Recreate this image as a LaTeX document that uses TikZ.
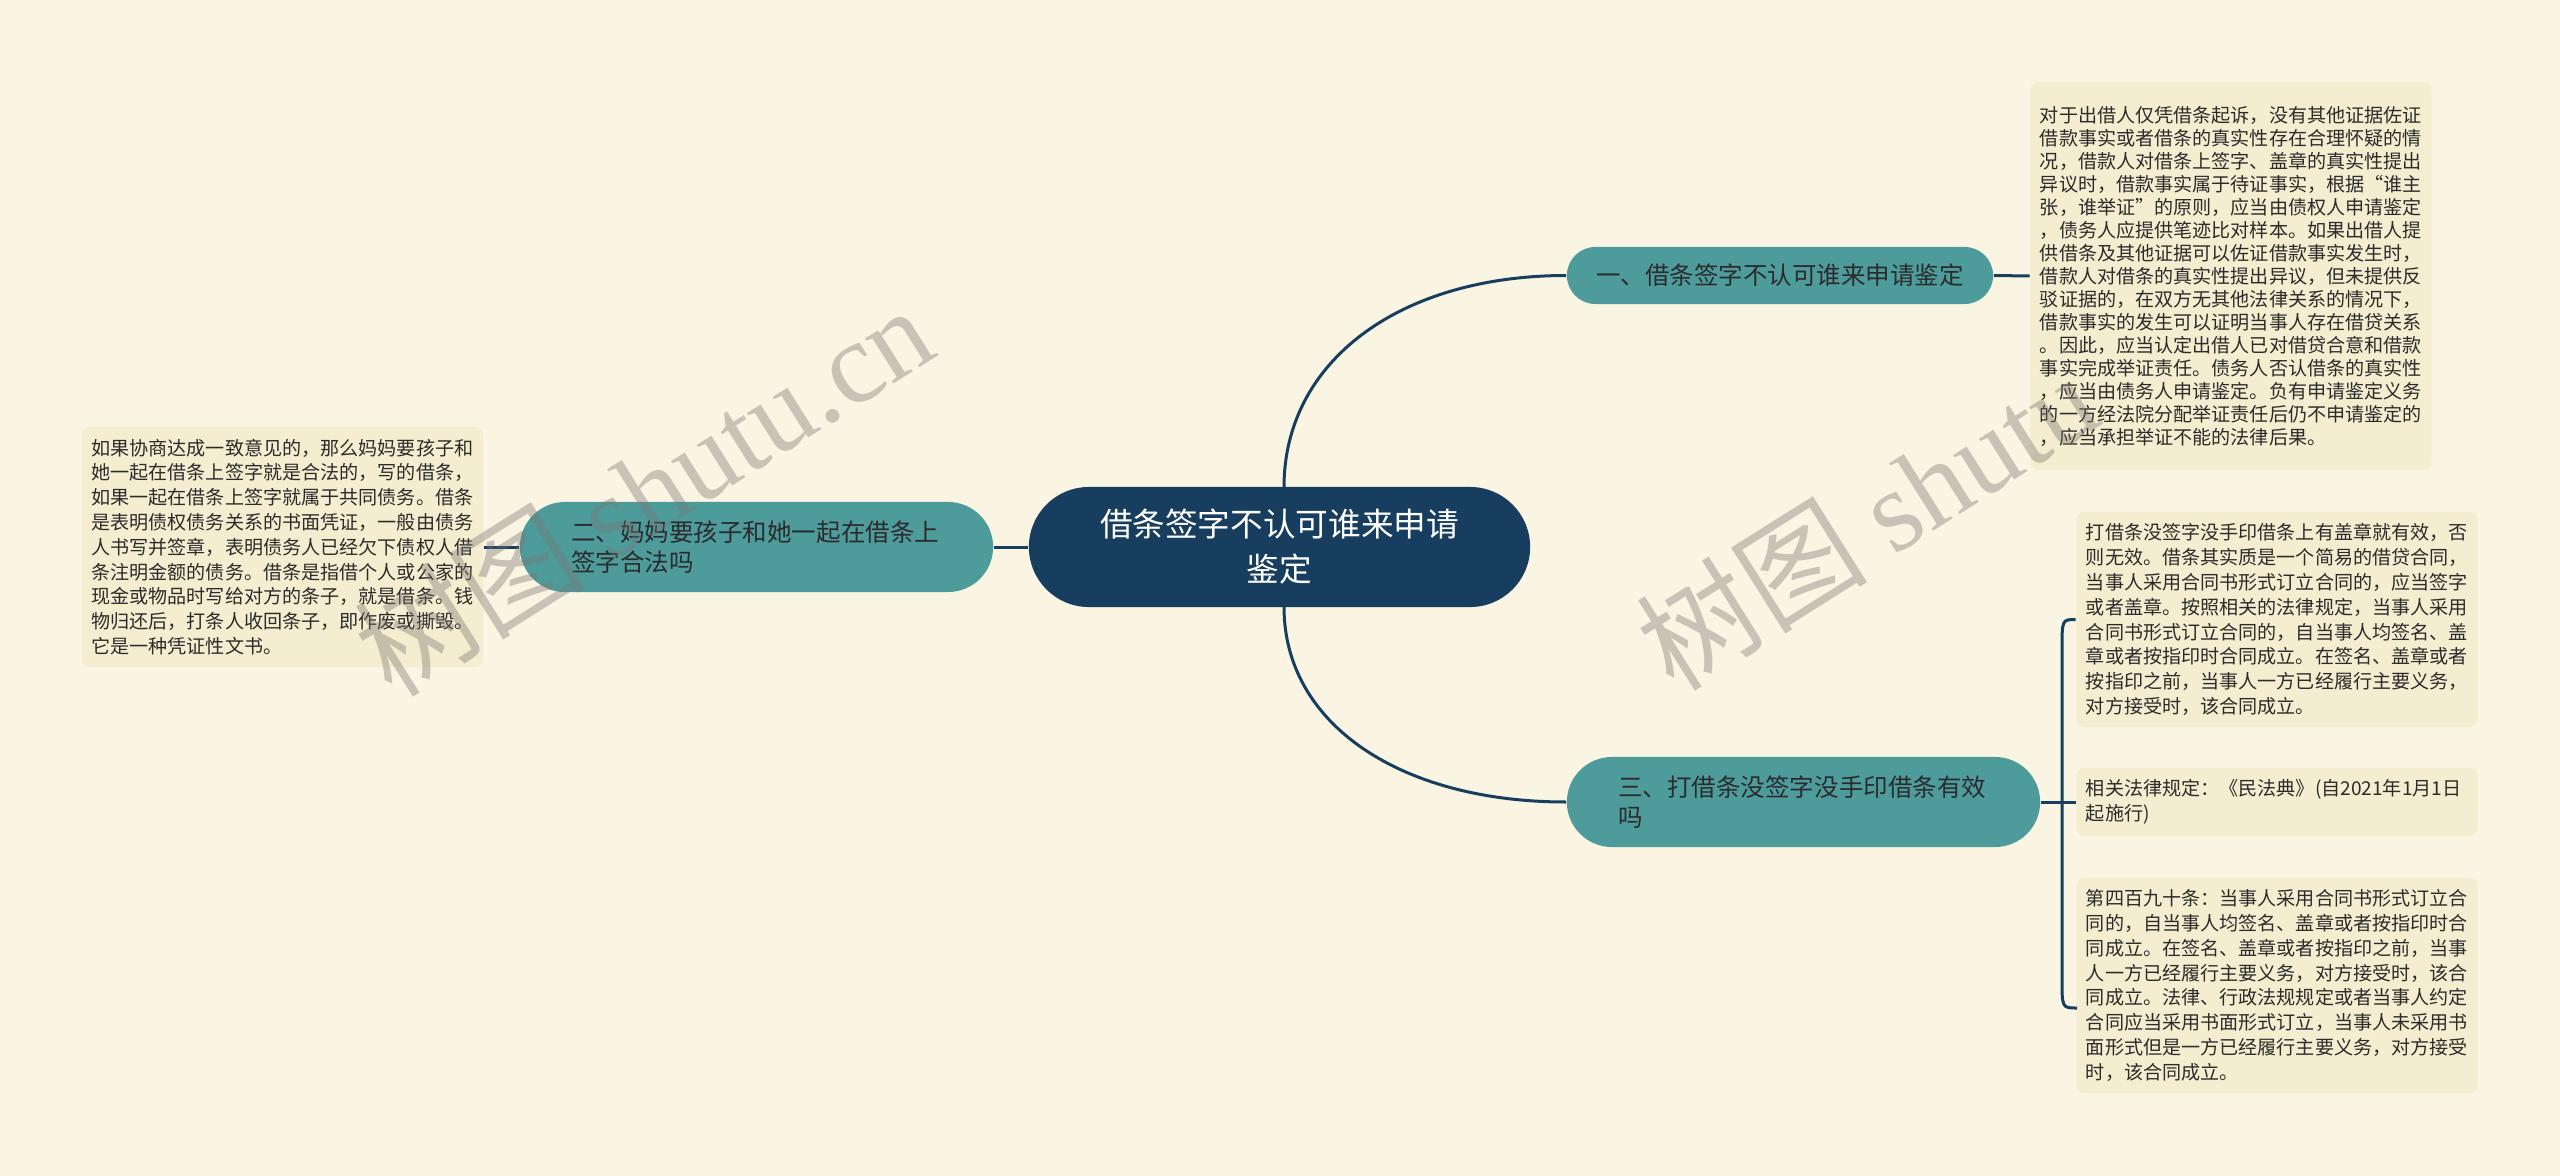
\documentclass[tikz,border=0pt]{standalone}
\usepackage{fontspec}
\setmainfont{Noto Sans CJK SC}
\newfontfamily\wmlat{Liberation Serif}
\definecolor{bgc}{HTML}{FAF5E2}
\definecolor{leafc}{HTML}{F4EDCF}
\definecolor{tealc}{HTML}{4E9B9C}
\definecolor{navyc}{HTML}{183E5F}
\definecolor{txtc}{HTML}{2B2B2B}
\definecolor{wmc}{HTML}{787470}
\tikzset{
  rootbox/.style={fill=navyc, text=white, rounded corners=0.6cm, minimum width=5.01cm, minimum height=1.2cm, align=center, inner sep=0pt, font=\fontsize{9.28pt}{12.8pt}\selectfont},
  topicbox/.style={fill=tealc, text=txtc, inner sep=0pt, font=\fontsize{6.97pt}{8.54pt}\selectfont},
  leafbox/.style={fill=leafc, text=txtc, rounded corners=0.08cm, inner xsep=0.095cm, inner ysep=0pt, text width=3.82cm, align=left},
  conn/.style={draw=navyc, line width=0.03cm},
  wm/.style={text=wmc, opacity=0.38, rotate=32.2, inner sep=0pt, anchor=base west}
}
\begin{document}
\begin{tikzpicture}[x=0.01cm, y=-0.01cm]
\fill[bgc] (0,0) rectangle (2560,1176);
\useasboundingbox (0,0) rectangle (2560,1176);

% main nodes
\node[rootbox] (root) at (1279.5,547) {借条签字不认可谁来申请\\鉴定};
\node[topicbox, rounded corners=0.285cm, minimum width=4.26cm, minimum height=0.57cm] (t1) at (1780,275.5) {一、借条签字不认可谁来申请鉴定};
\node[topicbox, rounded corners=0.45cm, minimum width=4.73cm, minimum height=0.9cm, text width=3.70cm, align=left, inner xsep=0.515cm] (t2) at (756.5,547) {二、妈妈要孩子和她一起在借条上\\签字合法吗};
\node[topicbox, rounded corners=0.45cm, minimum width=4.73cm, minimum height=0.9cm, text width=3.70cm, align=left, inner xsep=0.515cm] (t3) at (1803.5,802) {三、打借条没签字没手印借条有效\\吗};

% leaves
\node[leafbox, minimum height=3.88cm, font=\fontsize{5.43pt}{6.54pt}\selectfont] (l1) at (2231,276) {对于出借人仅凭借条起诉，没有其他证据佐证\\借款事实或者借条的真实性存在合理怀疑的情\\况，借款人对借条上签字、盖章的真实性提出\\异议时，借款事实属于待证事实，根据“谁主\\张，谁举证”的原则，应当由债权人申请鉴定\\，债务人应提供笔迹比对样本。如果出借人提\\供借条及其他证据可以佐证借款事实发生时，\\借款人对借条的真实性提出异议，但未提供反\\驳证据的，在双方无其他法律关系的情况下，\\借款事实的发生可以证明当事人存在借贷关系\\。因此，应当认定出借人已对借贷合意和借款\\事实完成举证责任。债务人否认借条的真实性\\，应当由债务人申请鉴定。负有申请鉴定义务\\的一方经法院分配举证责任后仍不申请鉴定的\\，应当承担举证不能的法律后果。};
\node[leafbox, minimum height=2.40cm, font=\fontsize{5.43pt}{7.05pt}\selectfont] (l2) at (282.5,547) {如果协商达成一致意见的，那么妈妈要孩子和\\她一起在借条上签字就是合法的，写的借条，\\如果一起在借条上签字就属于共同债务。借条\\是表明债权债务关系的书面凭证，一般由债务\\人书写并签章，表明债务人已经欠下债权人借\\条注明金额的债务。借条是指借个人或公家的\\现金或物品时写给对方的条子，就是借条。钱\\物归还后，打条人收回条子，即作废或撕毁。\\它是一种凭证性文书。};
\node[leafbox, minimum height=2.15cm, font=\fontsize{5.43pt}{7.05pt}\selectfont] (l3) at (2277,619.5) {打借条没签字没手印借条上有盖章就有效，否\\则无效。借条其实质是一个简易的借贷合同，\\当事人采用合同书形式订立合同的，应当签字\\或者盖章。按照相关的法律规定，当事人采用\\合同书形式订立合同的，自当事人均签名、盖\\章或者按指印时合同成立。在签名、盖章或者\\按指印之前，当事人一方已经履行主要义务，\\对方接受时，该合同成立。};
\node[leafbox, minimum height=0.68cm, font=\fontsize{5.43pt}{7.1pt}\selectfont] (l4) at (2277,802) {相关法律规定：《民法典》(自2021年1月1日\\起施行)};
\node[leafbox, minimum height=2.15cm, font=\fontsize{5.43pt}{7.05pt}\selectfont] (l5) at (2277,985.5) {第四百九十条：当事人采用合同书形式订立合\\同的，自当事人均签名、盖章或者按指印时合\\同成立。在签名、盖章或者按指印之前，当事\\人一方已经履行主要义务，对方接受时，该合\\同成立。法律、行政法规规定或者当事人约定\\合同应当采用书面形式订立，当事人未采用书\\面形式但是一方已经履行主要义务，对方接受\\时，该合同成立。};

% connectors
\coordinate (rtop) at (1284,487);
\coordinate (rbot) at (1284,607);
\draw[conn] (rtop) .. controls (1284,361) and (1400,275.5) .. (t1.west);
\draw[conn] (rbot) .. controls (1284,724) and (1400,802) .. (t3.west);
\draw[conn] (root.west) -- (t2.east);
\draw[conn] (t2.west) -- (l2.east);
\draw[conn] (t1.east) -- (l1.west);
\coordinate (br) at (2062,802);
\coordinate (l5c) at (2077,1008);
\draw[conn] (t3.east) -- (br) -- (l4.west);
\draw[conn] (l3.west) .. controls (2062,619.5) .. (2062,650) -- (2062,978) .. controls (2062,1008) .. (l5c);

% watermarks
\node[wm] (wm1) at (392,700) {\fontsize{33pt}{33pt}\selectfont 树图 {\wmlat shutu.cn}};
\node[wm] (wm2) at (1674,694) {\fontsize{33pt}{33pt}\selectfont 树图 {\wmlat shutu}};
\end{tikzpicture}
\end{document}
